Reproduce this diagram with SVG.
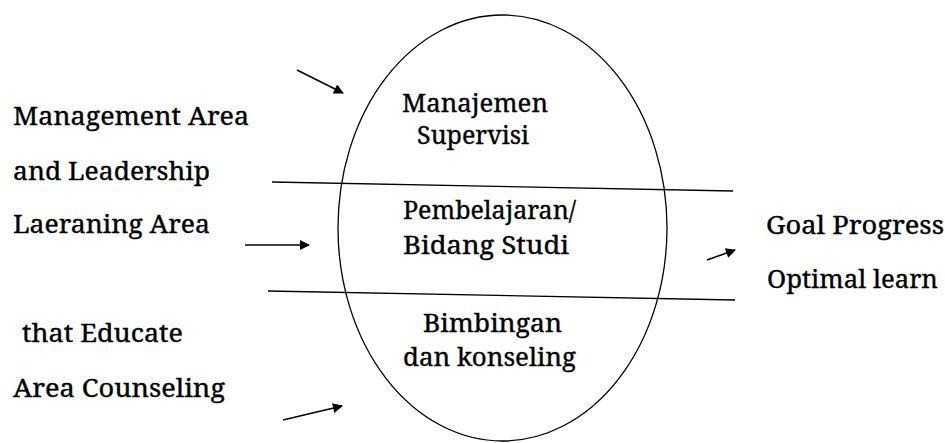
<svg xmlns="http://www.w3.org/2000/svg" width="945" height="443" viewBox="0 0 945 443">
<defs>
<marker id="ah" viewBox="0 0 10 10" refX="9" refY="5" markerWidth="11" markerHeight="10" markerUnits="userSpaceOnUse" orient="auto">
<path d="M0,0 L10,5 L0,10 z" fill="#000"/>
</marker>
<style>
.ln{stroke:#000;stroke-width:1.3;fill:none}
.ar{stroke:#000;stroke-width:1.6;fill:none;marker-end:url(#ah)}
.t{font-family:'Noto Serif','Liberation Serif',serif;font-size:25px;fill:#000;stroke:#000;stroke-width:0.35}
</style>
</defs>
<rect width="945" height="443" fill="#fff"/>
<g id="core">
<ellipse class="ln" cx="502.5" cy="228" rx="164.5" ry="213"/>
</g>
<g id="dividers">
<line class="ln" x1="272" y1="182" x2="733" y2="191"/>
<line class="ln" x1="268" y1="291" x2="735" y2="300"/>
</g>
<g id="manajemen" class="t">
<text x="402" y="112" textLength="146" lengthAdjust="spacingAndGlyphs">Manajemen</text>
<text x="417" y="144" textLength="112" lengthAdjust="spacingAndGlyphs">Supervisi</text>
</g>
<g id="pembelajaran" class="t">
<text x="403" y="219" textLength="173" lengthAdjust="spacingAndGlyphs">Pembelajaran/</text>
<text x="403" y="254" textLength="166" lengthAdjust="spacingAndGlyphs">Bidang Studi</text>
</g>
<g id="bimbingan" class="t">
<text x="423" y="332" textLength="139" lengthAdjust="spacingAndGlyphs">Bimbingan</text>
<text x="403" y="366" textLength="173" lengthAdjust="spacingAndGlyphs">dan konseling</text>
</g>
<g id="management-area" class="t">
<text x="13" y="125" textLength="236" lengthAdjust="spacingAndGlyphs">Management Area</text>
<text x="13" y="180" textLength="197" lengthAdjust="spacingAndGlyphs">and Leadership</text>
</g>
<g id="learning-area" class="t">
<text x="13" y="233" textLength="197" lengthAdjust="spacingAndGlyphs">Laeraning Area</text>
</g>
<g id="counseling-area" class="t">
<text x="22" y="342" textLength="161" lengthAdjust="spacingAndGlyphs">that Educate</text>
<text x="13" y="397" textLength="212" lengthAdjust="spacingAndGlyphs">Area Counseling</text>
</g>
<g id="goal" class="t">
<text x="766" y="234" textLength="178" lengthAdjust="spacingAndGlyphs">Goal Progress</text>
<text x="767" y="288" textLength="171" lengthAdjust="spacingAndGlyphs">Optimal learn</text>
</g>
<g id="connectors">
<line class="ar" x1="297" y1="70" x2="343" y2="93"/>
<line class="ar" x1="245" y1="245" x2="309" y2="245"/>
<line class="ar" x1="283" y1="420" x2="342" y2="406"/>
<line class="ar" x1="707" y1="260" x2="735" y2="250"/>
</g>
</svg>
